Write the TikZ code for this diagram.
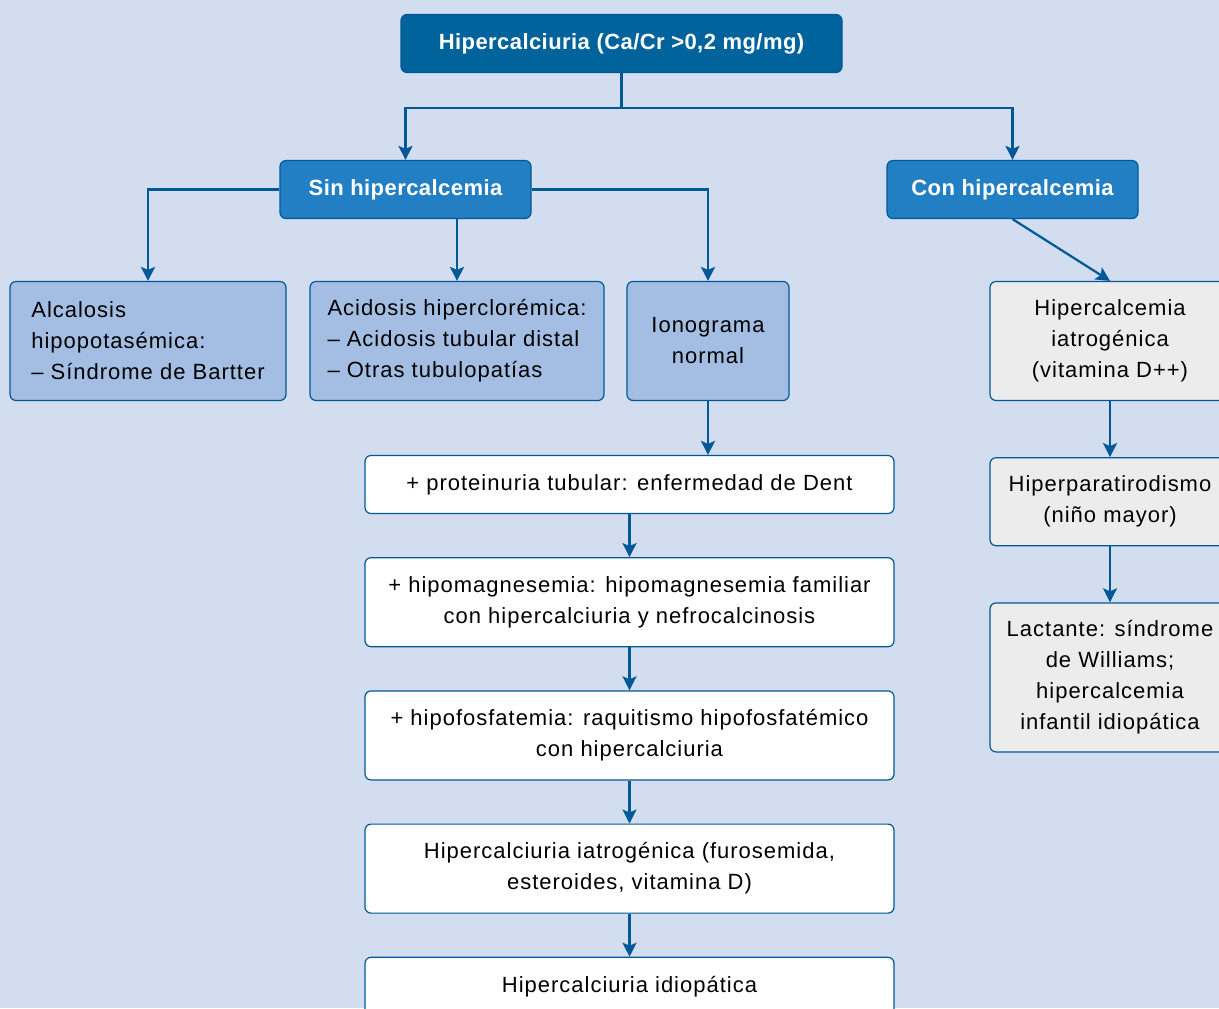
\documentclass[tikz,border=0pt]{standalone}
\usepackage{fontspec}
\setmainfont{Liberation Sans}[LetterSpace=4.5, BoldFeatures={LetterSpace=2}]
\usetikzlibrary{positioning,arrows.meta}

\definecolor{bgblue}{RGB}{210,221,240}
\definecolor{headblue}{RGB}{0,99,155}
\definecolor{midblue}{RGB}{35,127,196}
\definecolor{paleblue}{RGB}{164,190,227}
\definecolor{lineblue}{RGB}{0,88,150}
\definecolor{softgray}{RGB}{236,236,236}

\begin{document}
\begin{tikzpicture}[
    x=0.5pt, y=-0.5pt,
    node distance=21.5pt,
    >={Stealth[length=7pt,width=7pt,inset=1.5pt]},
    every node/.style={font=\fontsize{11}{15.5}\selectfont, align=center, inner sep=4pt},
    box/.style={draw=lineblue, line width=0.6pt, rounded corners=3pt},
    headbox/.style={box, fill=headblue, text=white,
        font=\fontsize{11}{15.5}\selectfont\bfseries,
        minimum width=220.5pt, minimum height=29pt},
    groupbox/.style={headbox, fill=midblue, minimum width=125.5pt},
    causebox/.style={box, fill=paleblue, minimum height=59.5pt},
    stepbox/.style={box, fill=white, minimum width=264.5pt},
    hcbox/.style={box, fill=softgray, minimum width=120pt},
    link/.style={draw=lineblue, line width=1.1pt}
]
\useasboundingbox (0,0) rectangle (1219,1008);
\fill[bgblue] (0,0) rectangle (1219,1008);
\clip (0,0) rectangle (1219,1008);

\node[headbox] (hcu) at (621.5,43.5) {Hipercalciuria (Ca/Cr >0,2 mg/mg)};
\node[groupbox] (sin) at (405.5,189.5) {Sin hipercalcemia};
\node[groupbox] (con) at (1012.5,189.5) {Con hipercalcemia};

\node[causebox, minimum width=138pt, align=left] (alc) at (148,341) {Alcalosis\\hipopotasémica:\\– Síndrome de Bartter};
\node[causebox, minimum width=147pt, align=left] (acid) at (457,341) {Acidosis hiperclorémica:\\– Acidosis tubular distal\\– Otras tubulopatías};
\node[causebox, minimum width=81pt] (iono) at (708,341) {Ionograma\\normal};

\node[stepbox, minimum height=29pt] (dent) at (629.5,484.5) {+ proteinuria tubular: enfermedad de Dent};
\node[stepbox, minimum height=44.5pt, below=of dent] (mag) {+ hipomagnesemia: hipomagnesemia familiar\\con hipercalciuria y nefrocalcinosis};
\node[stepbox, minimum height=44.5pt, below=of mag] (fos) {+ hipofosfatemia: raquitismo hipofosfatémico\\con hipercalciuria};
\node[stepbox, minimum height=44.5pt, below=of fos] (iatr) {Hipercalciuria iatrogénica (furosemida,\\esteroides, vitamina D)};
\node[stepbox, minimum height=29pt, below=of iatr] (idio) {Hipercalciuria idiopática};

\node[hcbox, minimum height=59.5pt] (vitd) at (1110,341) {Hipercalcemia\\iatrogénica\\(vitamina D++)};
\node[hcbox, minimum height=44pt, below=28pt of vitd] (hpt) {Hiperparatirodismo\\(niño mayor)};
\node[hcbox, minimum height=74.5pt, below=28pt of hpt] (lact) {Lactante: síndrome\\de Williams;\\hipercalcemia\\infantil idiopática};

% primer nivel
\draw[->, link] (hcu.south) -- ++(0,35) -| (sin.north);
\draw[->, link] (hcu.south) -- ++(0,35) -| (con.north);

% sin hipercalcemia
\draw[->, link] (sin.west) -| (alc.north);
\draw[->, link] (sin.south -| acid.north) -- (acid.north);
\draw[->, link] (sin.east) -| (iono.north);
\draw[->, link] (iono.south) -- (iono.south |- dent.north);
\draw[->, link] (dent) -- (mag);
\draw[->, link] (mag) -- (fos);
\draw[->, link] (fos) -- (iatr);
\draw[->, link] (iatr) -- (idio);

% con hipercalcemia
\draw[->, link] (con.south) -- (vitd.north);
\draw[->, link] (vitd) -- (hpt);
\draw[->, link] (hpt) -- (lact);
\end{tikzpicture}
\end{document}
